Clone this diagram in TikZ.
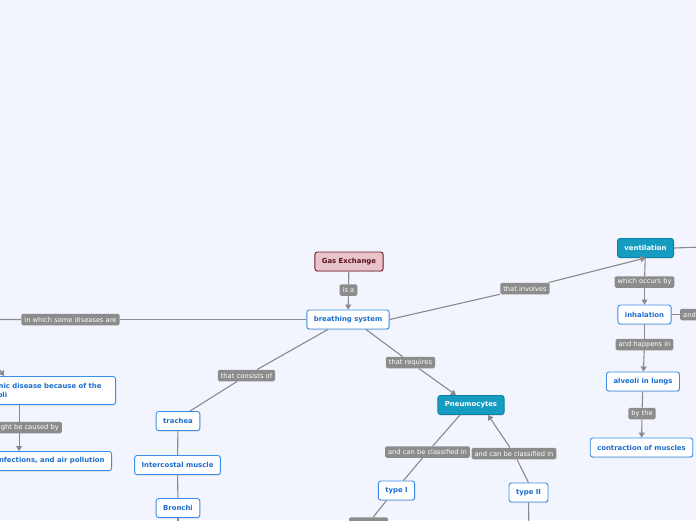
\documentclass[tikz,border=0pt]{standalone}
\usepackage{fontspec}
\setmainfont{DejaVu Sans}
\usepackage{tikz}
\usetikzlibrary{arrows.meta, shadows}

\begin{document}
\begin{tikzpicture}[x=1pt, y=-1pt, >={Triangle[length=5pt, width=6pt]},
    every node/.style={align=center},
    topic/.style={draw=topicline, fill=white, text=topictext, rounded corners=2.5pt, line width=0.9pt,
      font=\fontsize{6.9}{8.4}\selectfont\bfseries, inner xsep=7pt, inner ysep=0pt, minimum height=19pt,
      drop shadow={opacity=0.25, shadow xshift=0.4pt, shadow yshift=-1.2pt}},
    main/.style={topic, draw=mainline, fill=mainbg, text=white},
    central/.style={topic, draw=centralline, fill=centralbg, text=centraltext},
    lbl/.style={fill=lblbg, text=white, rounded corners=1.5pt, font=\fontsize{6.7}{8}\selectfont,
      inner xsep=3pt, inner ysep=0pt, minimum height=11.5pt},
    link/.style={draw=linkgray, line width=1.1pt}]
      \definecolor{pagebg}{HTML}{F2F5FE} \definecolor{topicline}{HTML}{3A8EE6} \definecolor{topictext}{HTML}{1A6DD0}
      \definecolor{mainbg}{HTML}{159CC0} \definecolor{mainline}{HTML}{0F82A3}
      \definecolor{centralbg}{HTML}{E7C4CA} \definecolor{centralline}{HTML}{76182A} \definecolor{centraltext}{HTML}{5A0F1C}
      \definecolor{lblbg}{HTML}{8C8C8C} \definecolor{linkgray}{HTML}{8A8A8A}
      \useasboundingbox (0,0) rectangle (696,520);
      \fill[pagebg] (0,0) rectangle (696,520);
      \clip (0,0) rectangle (696,520);

      % topics
      \node[central] (gas) at (349,261.5) {Gas Exchange};
      \node[topic] (bs) at (348,319.5) {breathing system};
      \node[main] (vent) at (645.5,248) {ventilation};
      \node[topic] (inh) at (644.5,314.5) {inhalation};
      \node[topic] (alv) at (643,381.5) {alveoli in lungs};
      \node[topic] (musc) at (641.5,447.5) {contraction of muscles};
      \node[main] (pneu) at (471,405) {Pneumocytes};
      \node[topic] (t1) at (396.5,490.5) {type I};
      \node[topic] (t2) at (528.5,492.5) {type II};
      \node[topic] (tra) at (178,421) {trachea};
      \node[topic] (ic) at (177.5,465) {Intercostal muscle};
      \node[topic] (bro) at (178,508) {Bronchi};
      \node[topic, anchor=north east, text width=127pt, align=left, minimum height=28pt] (chron) at (116,376)
        {chronic disease because of the\\alveoli};
      \node[topic, anchor=east] (inf) at (112,461) {infections, and air pollution};

      % might be caused by
      \draw[link,->] ([xshift=45pt]chron.south west) -- ([xshift=45pt]chron.south west |- inf.north);
      \node[lbl, anchor=east] (cause) at (62,427.5) {might be caused by};

      % link labels
      \node[lbl] (isa) at (348.5,290) {is a};
      \node[lbl] (dis) at (70.5,319.5) {in which some diseases are};
      \node[lbl] (inv) at (525,288.5) {that involves};
      \node[lbl] (occ) at (644.5,282) {which occurs by};
      \node[lbl, anchor=west] (and) at (680,314.5) {and};
      \node[lbl] (hap) at (644.5,344.5) {and happens in};
      \node[lbl] (by) at (642,413.5) {by the};
      \node[lbl] (req) at (410.5,362.5) {that requires};
      \node[lbl] (cons) at (246.5,375.5) {that consists of};
      \node[lbl] (cl1) at (427.5,452) {and can be classified in};
      \node[lbl] (cl2) at (514,453.5) {and can be classified in};
      \node[lbl, minimum width=39pt] (low) at (368.5,523) {};

      % free ends off the page
      \coordinate (offl) at (-60,319.5);
      \coordinate (offl2) at (-25,335);
      \coordinate (offr) at (730,246);
      \coordinate (offt2) at (529,540);
      \coordinate (offbro) at (178,540);

      % connectors
      \draw[link] (gas) -- (isa);
      \draw[link,->] (isa) -- (bs);
      \draw[link] (bs.west) -- (dis);
      \draw[link,->] (dis) -- (offl) -- (offl2) -- ([xshift=30pt]chron.north west);
      \draw[link] (bs.east) -- (inv);
      \draw[link,->] (inv) -- (vent.south);
      \draw[link] (vent.east) -- (offr);
      \draw[link] (vent) -- (occ);
      \draw[link,->] (occ) -- (inh);
      \draw[link] (inh) -- (and);
      \draw[link] (inh) -- (hap);
      \draw[link,->] (hap) -- (alv);
      \draw[link] (alv) -- (by);
      \draw[link,->] (by) -- (musc);
      \draw[link] ([xshift=18pt]bs.south) -- (req);
      \draw[link,->] (req) -- ([xshift=-15pt]pneu.north);
      \draw[link] ([xshift=-20pt]bs.south) -- (cons);
      \draw[link] (cons) -- ([xshift=12pt]tra.north);
      \draw[link] (tra) -- (ic);
      \draw[link] (ic) -- (bro);
      \draw[link] (bro) -- (offbro);
      \draw[link] ([xshift=-11pt]pneu.south) -- (cl1);
      \draw[link] (cl1) -- ([xshift=7pt]t1.north);
      \draw[link] (t2.north) -- (cl2);
      \draw[link,->] (cl2) -- ([xshift=17pt]pneu.south);
      \draw[link] ([xshift=-10pt]t1.south) -- (low);
      \draw[link] (t2) -- (offt2);
\end{tikzpicture}
\end{document}
